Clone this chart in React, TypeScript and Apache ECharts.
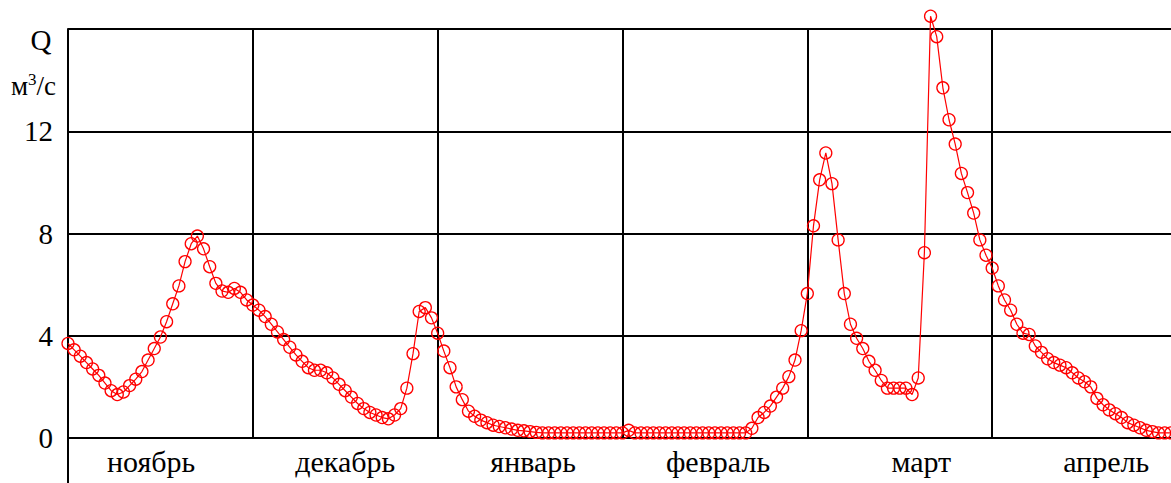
import React, { useEffect, useRef } from "react";
import * as echarts from "echarts";

const months = ["ноябрь", "декабрь", "январь", "февраль", "март", "апрель"];
// day positions (from 1 Nov) where the month names sit under the axis
const monthLabelDays = [13.5, 45, 75.5, 105.5, 138.5, 168.5];
const yTicks = [0, 4, 8, 12];

const novFlow = [3.7, 3.45, 3.2, 2.95, 2.7, 2.45, 2.15, 1.85, 1.7, 1.8, 2.05, 2.3, 2.6, 3.05, 3.5, 3.95, 4.55, 5.25, 5.95, 6.9, 7.6, 7.9, 7.4, 6.7, 6.05, 5.75, 5.7, 5.85, 5.7, 5.4];
const decFlow = [5.2, 5.0, 4.75, 4.45, 4.15, 3.85, 3.55, 3.25, 3.0, 2.75, 2.65, 2.65, 2.55, 2.35, 2.1, 1.85, 1.6, 1.35, 1.15, 1.0, 0.9, 0.8, 0.75, 0.9, 1.15, 1.95, 3.3, 4.95, 5.1, 4.7];
const janFlow = [4.1, 3.4, 2.75, 2.0, 1.5, 1.05, 0.85, 0.7, 0.6, 0.5, 0.45, 0.4, 0.35, 0.3, 0.28, 0.25, 0.22, 0.2, 0.2, 0.2, 0.2, 0.2, 0.2, 0.2, 0.2, 0.2, 0.2, 0.2, 0.2, 0.2];
const febFlow = [0.2, 0.3, 0.2, 0.2, 0.2, 0.2, 0.2, 0.2, 0.2, 0.2, 0.2, 0.2, 0.2, 0.2, 0.2, 0.2, 0.2, 0.2, 0.2, 0.2, 0.2, 0.38, 0.8, 1.0, 1.25, 1.6, 1.95, 2.4, 3.05, 4.2];
const marFlow = [5.65, 8.3, 10.1, 11.15, 9.95, 7.75, 5.65, 4.45, 3.9, 3.5, 3.0, 2.65, 2.25, 1.95, 1.95, 1.95, 1.95, 1.7, 2.35, 7.25, 16.5, 15.7, 13.7, 12.45, 11.5, 10.35, 9.6, 8.8, 7.75, 7.15];
const aprFlow = [6.65, 5.95, 5.4, 5.0, 4.45, 4.1, 4.05, 3.6, 3.35, 3.1, 2.95, 2.85, 2.75, 2.55, 2.35, 2.2, 2.0, 1.55, 1.3, 1.1, 0.95, 0.8, 0.6, 0.5, 0.4, 0.3, 0.25, 0.2, 0.2, 0.2];

const flow = [...novFlow, ...decFlow, ...janFlow, ...febFlow, ...marFlow, ...aprFlow];

const FONT = "Liberation Serif";

export default function App() {
  const ref = useRef<HTMLDivElement>(null);
  useEffect(() => {
    if (!ref.current) return;
    const chart = echarts.init(ref.current, null, { renderer: "svg" });
    const data = flow.map((v, i) => [i, v]);
    chart.setOption({
      animation: false,
      backgroundColor: "#ffffff",
      grid: { left: 68, top: 29, right: 3, bottom: 45, containLabel: false },
      xAxis: [
        {
          type: "value",
          min: 0,
          max: 180,
          interval: 30,
          position: "bottom",
          axisLine: { show: true, onZero: false, lineStyle: { color: "#000", width: 2 } },
          axisTick: { show: false },
          axisLabel: { show: false },
          splitLine: { show: true, lineStyle: { color: "#000", width: 2 } },
        },
        {
          type: "value",
          min: 0,
          max: 180,
          position: "bottom",
          axisLine: { show: false },
          axisTick: { show: false },
          splitLine: { show: false },
          axisLabel: {
            show: true,
            customValues: monthLabelDays,
            showMinLabel: true,
            showMaxLabel: true,
            margin: 8,
            color: "#000",
            fontFamily: FONT,
            fontSize: 30,
            formatter: (v: number) => {
              const k = monthLabelDays.indexOf(v);
              return k >= 0 ? months[k] : "";
            },
          },
        },
      ],
      yAxis: {
        type: "value",
        min: 0,
        max: 16,
        interval: 4,
        axisLine: { show: true, lineStyle: { color: "#000", width: 2 } },
        axisTick: { show: false },
        axisLabel: {
          margin: 15,
          color: "#000",
          fontFamily: FONT,
          fontSize: 29,
          formatter: (v: number) => (yTicks.includes(v) ? String(v) : ""),
        },
        splitLine: { show: true, lineStyle: { color: "#000", width: 2 } },
      },
      graphic: [
        {
          type: "line",
          shape: { x1: 68, y1: 438, x2: 68, y2: 483 },
          style: { stroke: "#000", lineWidth: 2 },
        },
        {
          type: "text",
          x: 41,
          y: 40,
          style: { text: "Q", fontFamily: FONT, fontSize: 29, fill: "#000", align: "center", verticalAlign: "middle" },
        },
        {
          type: "text",
          x: 11,
          y: 71,
          style: {
            text: "{m|м}{s|3}{m|/с}",
            fontFamily: FONT,
            fill: "#000",
            align: "left",
            verticalAlign: "top",
            rich: {
              m: { fontFamily: FONT, fontSize: 27, fill: "#000", lineHeight: 28, verticalAlign: "bottom" },
              s: { fontFamily: FONT, fontSize: 17, fill: "#000", lineHeight: 28, verticalAlign: "top", padding: [0, 0, 0, 0] },
            },
          },
        },
      ],
      series: [
        {
          type: "line",
          xAxisIndex: 0,
          data,
          clip: false,
          symbol: "circle",
          symbolSize: 12,
          itemStyle: { color: "rgba(0,0,0,0)", borderColor: "#ff0000", borderWidth: 1.3 },
          lineStyle: { color: "#ff0000", width: 1.2 },
          z: 5,
        },
      ],
    });
    return () => chart.dispose();
  }, []);
  return (
    <div
      ref={ref}
      style={{ position: "fixed", left: 0, top: 0, width: 1180, height: 483, background: "#fff" }}
    />
  );
}
